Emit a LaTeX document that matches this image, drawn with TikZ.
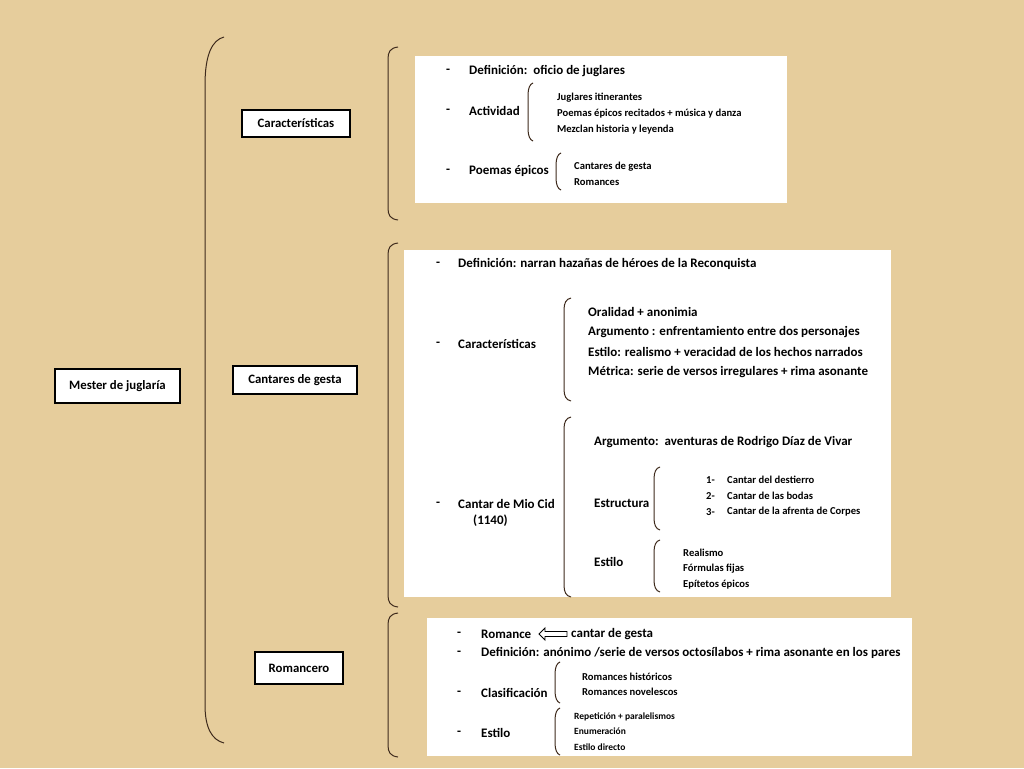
\documentclass[tikz,border=0pt]{standalone}
\usepackage{fontspec}
\setmainfont{Carlito}
\begin{document}
\begin{tikzpicture}[x=1pt,y=-1pt,
  bg/.style={fill=paper,draw=none},
  panel/.style={fill=white,draw=none},
  lbox/.style={draw=black,line width=1.2pt,fill=white,inner sep=0pt,font=\fontsize{12.8}{14}\selectfont\bfseries},
  brk/.style={draw=brace,line width=1pt},
  mt/.style={anchor=west,inner sep=0pt,font=\fontsize{13}{15}\selectfont\bfseries},
  st/.style={anchor=west,inner sep=0pt,font=\fontsize{10.6}{12}\selectfont\bfseries},
  xs/.style={anchor=west,inner sep=0pt,font=\fontsize{9.5}{11}\selectfont\bfseries}]
\definecolor{paper}{HTML}{E6CD9C}
\definecolor{brace}{HTML}{3E2A1C}
\newcommand\sqbr[4][10]{% x, top, bottom
  \draw[brk] (#2+#1,#3) .. controls (#2+2,#3+1) and (#2,#3+5) .. (#2,#3+12) -- (#2,#4-12) .. controls (#2,#4-5) and (#2+2,#4-1) .. (#2+#1,#4);}
\useasboundingbox (0,0) rectangle (1024,768);
\fill[bg] (0,0) rectangle (1024,768);
% panels
\fill[panel] (415,56) rectangle (787,203);
\fill[panel] (404,250) rectangle (891,597);
\fill[panel] (427,618) rectangle (912,756);
% level boxes
\node[lbox,minimum width=125pt,minimum height=34pt] (mester) at (117.5,386) {Mester de juglaría};
\node[lbox,minimum width=108pt,minimum height=27pt] (car) at (296,123.5) {Características};
\node[lbox,minimum width=124pt,minimum height=28pt] (cant) at (295,380) {Cantares de gesta};
\node[lbox,minimum width=88pt,minimum height=32pt] (rom) at (299,668) {Romancero};
% big bracket
\draw[brk] (224,37) .. controls (212,40) and (205,55) .. (205,85) -- (205,705) .. controls (205,728) and (212,740) .. (224,743);
\sqbr{388}{47}{220}
\sqbr{388}{243}{607}
\sqbr{388}{613}{757}
% panel 1
\node[mt] (d1) at (446,71) {-};
\node[mt] (d1t) at (469,71) {Definición:\, oficio de juglares};
\node[mt] (d2) at (446,111) {-};
\node[mt] (act) at (469,111) {Actividad};
\sqbr[5]{528}{83}{141}
\node[st] (a1) at (557,98) {Juglares itinerantes};
\node[st] (a2) at (557,114) {Poemas épicos recitados + música y danza};
\node[st] (a3) at (557,130) {Mezclan historia y leyenda};
\node[mt] (d3) at (446,171) {-};
\node[mt] (pe) at (469,171) {Poemas épicos};
\sqbr[5]{556}{153}{190}
\node[st] (p1) at (574,167) {Cantares de gesta};
\node[st] (p2) at (574,182) {Romances};
% panel 2
\node[mt] (e1) at (436,264) {-};
\node[mt] (def2) at (458,264) {Definición: narran hazañas de héroes de la Reconquista};
\node[mt] (e2) at (436,344) {-};
\node[mt] (car2) at (458,344) {Características};
\sqbr[7]{564}{298}{401}
\node[mt] (c1) at (588,312) {Oralidad + anonimia};
\node[mt] (c2) at (588,332) {Argumento : enfrentamiento entre dos personajes};
\node[mt] (c3) at (588,352) {Estilo: realismo + veracidad de los hechos narrados};
\node[mt] (c4) at (588,372) {Métrica: serie de versos irregulares + rima asonante};
\node[mt] (e3) at (436,504) {-};
\node[mt] (cid) at (458,504) {Cantar de Mio Cid};
\node[mt] (ano) at (473,521) {(1140)};
\sqbr[7]{564}{417}{597}
\node[mt] (arg) at (594,442) {Argumento:\, aventuras de Rodrigo Díaz de Vivar};
\node[mt] (est) at (594,503) {Estructura};
\sqbr[6]{654}{467}{530}
\node[st] (n1) at (706,480) {1-};
\node[st] (s1) at (727,480) {Cantar del destierro};
\node[st] (n2) at (706,496) {2-};
\node[st] (s2) at (727,496) {Cantar de las bodas};
\node[st] (n3) at (706,512) {3-};
\node[st] (s3) at (727,512) {Cantar de la afrenta de Corpes};
\node[mt] (esti) at (594,562) {Estilo};
\sqbr[6]{654}{540}{592}
\node[st] (r1) at (683,553) {Realismo};
\node[st] (r2) at (683,569) {Fórmulas fijas};
\node[st] (r3) at (683,585) {Epítetos épicos};
% panel 3
\node[mt] (f1) at (457,634) {-};
\node[mt] (rmc) at (481,634) {Romance};
\draw[line width=0.9pt,draw=black] (539,634) -- (545,628) -- (545,631.5) -- (567,631.5) -- (567,636.5) -- (545,636.5) -- (545,640) -- cycle;
\node[mt] (cg) at (571,634) {cantar de gesta};
\node[mt] (f2) at (457,653) {-};
\node[mt] (def3) at (481,653) {Definición: anónimo /serie de versos octosílabos + rima asonante en los pares};
\node[mt] (f3) at (457,693) {-};
\node[mt] (cla) at (481,693) {Clasificación};
\sqbr[5]{555}{662}{703}
\node[st] (h1) at (582,677) {Romances históricos};
\node[st] (h2) at (582,692) {Romances novelescos};
\node[mt] (f4) at (457,733) {-};
\node[mt] (es3) at (481,733) {Estilo};
\sqbr[5]{555}{708}{755}
\node[xs] (y1) at (574,717) {Repetición + paralelismos};
\node[xs] (y2) at (574,731) {Enumeración};
\node[xs] (y3) at (574,747) {Estilo directo};
\end{tikzpicture}
\end{document}
